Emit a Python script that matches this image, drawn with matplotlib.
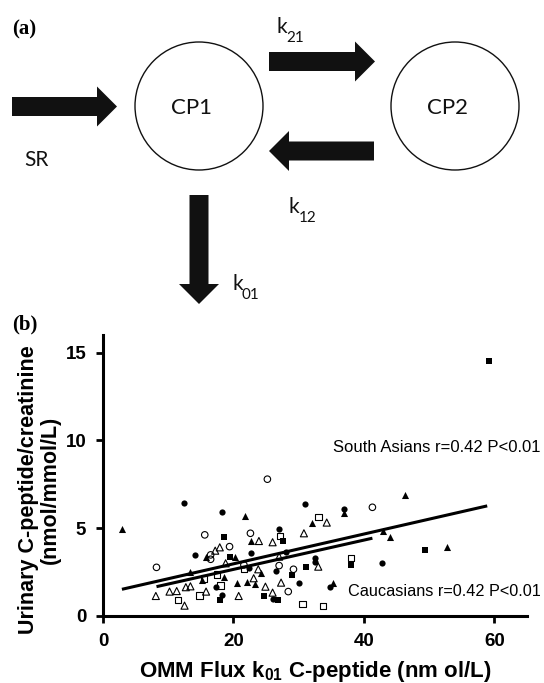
import matplotlib
matplotlib.use('Agg')
import matplotlib.pyplot as plt
from matplotlib.patches import Circle, FancyArrow

# ---- data ----
# South Asians (filled markers)
sa_circle_x = [12.4, 14.1, 18.2, 17.3, 18.3, 22.7, 22.4, 26.1, 27.0, 26.5, 28.1, 30.0, 31.0, 32.5, 32.5, 34.8, 37.0, 42.8]
sa_circle_y = [6.46, 3.48, 5.90, 1.64, 1.20, 3.57, 2.72, 0.97, 4.96, 2.58, 3.66, 1.86, 6.38, 3.30, 3.10, 1.67, 6.08, 3.00]
sa_tri_x = [2.9, 13.3, 15.2, 15.8, 18.6, 20.2, 20.5, 21.7, 22.1, 22.7, 23.3, 24.2, 32.1, 35.3, 37.0, 43.0, 44.0, 46.3, 52.7]
sa_tri_y = [4.94, 2.50, 2.05, 3.38, 2.24, 3.38, 1.86, 5.72, 1.95, 4.27, 1.82, 2.43, 5.28, 1.86, 5.85, 4.85, 4.48, 6.89, 3.91]
sa_sq_x = [17.9, 18.6, 19.5, 24.7, 26.9, 27.6, 29.0, 31.1, 38.0, 49.3, 59.2]
sa_sq_y = [0.91, 4.52, 3.38, 1.14, 0.91, 4.27, 2.34, 2.81, 2.91, 3.76, 14.53]

# Caucasians (open markers)
ca_circle_x = [8.2, 15.6, 16.5, 16.5, 19.4, 21.6, 22.6, 25.2, 27.0, 28.4, 29.2, 41.3]
ca_circle_y = [2.77, 4.62, 3.48, 3.23, 3.95, 2.91, 4.71, 7.79, 2.87, 1.39, 2.66, 6.19]
ca_tri_x = [8.1, 10.2, 11.3, 12.5, 12.7, 13.4, 15.8, 17.2, 17.9, 18.8, 20.8, 23.1, 23.8, 23.9, 24.9, 26.0, 26.0, 27.0, 27.3, 30.8, 33.0, 34.3]
ca_tri_y = [1.14, 1.39, 1.42, 0.59, 1.64, 1.69, 1.39, 3.72, 3.91, 3.00, 1.14, 2.15, 2.66, 4.27, 1.67, 1.33, 4.20, 3.38, 1.90, 4.71, 2.81, 5.32]
ca_sq_x = [11.5, 14.8, 15.5, 17.5, 18.0, 21.6, 27.1, 30.6, 33.0, 33.7, 38.0]
ca_sq_y = [0.91, 1.16, 2.13, 2.37, 1.73, 2.68, 4.56, 0.68, 5.64, 0.57, 3.29]

# regression lines (end points)
sa_fit_x = [2.9, 58.9]
sa_fit_y = [1.52, 6.27]
ca_fit_x = [8.2, 41.3]
ca_fit_y = [1.67, 4.43]

x_ticks = [0, 20, 40, 60]
y_ticks = [0, 5, 10, 15]

sa_label = 'South Asians r=0.42 P<0.01'
ca_label = 'Caucasians r=0.42 P<0.01'

plt.rcParams['mathtext.fontset'] = 'custom'
plt.rcParams['mathtext.rm'] = 'Liberation Sans:bold'
plt.rcParams['mathtext.it'] = 'Liberation Sans:bold'
plt.rcParams['mathtext.bf'] = 'Liberation Sans:bold'

W, H = 544, 683
fig = plt.figure(figsize=(W / 100, H / 100), dpi=100)

# ---- panel (a): compartment diagram, drawn in pixel units ----
diag = fig.add_axes([0, 0, 1, 1])
diag.set_xlim(0, W)
diag.set_ylim(H, 0)
diag.axis('off')

ink = '#111111'
diagFont = 'Lato'


def DrawArrow(axes, x0, y0, x1, y1):
    arrow = FancyArrow(x0, y0, x1 - x0, y1 - y0, width=19, head_width=40,
                       head_length=20, length_includes_head=True,
                       color=ink, lw=0)
    axes.add_patch(arrow)


def DrawK(axes, x, y, sub):
    axes.text(x, y, 'k', fontsize=15, family=diagFont, color=ink,
              ha='left', va='baseline')
    axes.text(x + 10, y + 9, sub, fontsize=11, family=diagFont, color=ink,
              ha='left', va='baseline')


for cx, name in [(199, 'CP1'), (455, 'CP2')]:
    diag.add_patch(Circle((cx, 106), 64, fill=False, ec=ink, lw=1.0))
    diag.text(cx - 7, 108, name, fontsize=16, family=diagFont, color=ink,
              ha='center', va='center')

DrawArrow(diag, 12, 106.5, 117, 106.5)
DrawArrow(diag, 269, 61.5, 375, 61.5)
DrawArrow(diag, 374, 151, 269, 151)
DrawArrow(diag, 199, 195, 199, 304)

diag.text(36, 160, 'SR', fontsize=15, family=diagFont, color=ink,
          ha='center', va='center')
DrawK(diag, 276, 33, '21')
DrawK(diag, 289, 213, '12')
DrawK(diag, 232, 290, '01')

diag.text(12, 29, '(a)', fontsize=15, family='Liberation Serif',
          weight='bold', ha='left', va='center')
diag.text(12, 324, '(b)', fontsize=15, family='Liberation Serif',
          weight='bold', ha='left', va='center')

# ---- panel (b): scatter ----
ax = fig.add_axes([103 / W, (H - 616) / H, 424 / W, 281 / H])
ax.patch.set_visible(False)
ax.set_xlim(0, 65)
ax.set_ylim(0, 16)

ax.plot(sa_fit_x, sa_fit_y, color='black', lw=2.2, solid_capstyle='butt')
ax.plot(ca_fit_x, ca_fit_y, color='black', lw=2.2, solid_capstyle='butt')

ax.scatter(sa_circle_x, sa_circle_y, marker='o', s=20, c='black', lw=0, zorder=3)
ax.scatter(sa_tri_x, sa_tri_y, marker='^', s=26, c='black', lw=0, zorder=3)
ax.scatter(sa_sq_x, sa_sq_y, marker='s', s=20, c='black', lw=0, zorder=3)
ax.scatter(ca_circle_x, ca_circle_y, marker='o', s=22, facecolors='none',
           edgecolors='black', lw=0.8, zorder=3)
ax.scatter(ca_tri_x, ca_tri_y, marker='^', s=26, facecolors='none',
           edgecolors='black', lw=0.8, zorder=3)
ax.scatter(ca_sq_x, ca_sq_y, marker='s', s=22, facecolors='none',
           edgecolors='black', lw=0.8, zorder=3)

for side in ['top', 'right']:
    ax.spines[side].set_visible(False)
for side in ['left', 'bottom']:
    ax.spines[side].set_linewidth(2.2)

ax.set_xticks(x_ticks)
ax.set_yticks(y_ticks)
ax.tick_params(width=2, length=5, labelsize=13.5, pad=7)
for label in ax.get_xticklabels() + ax.get_yticklabels():
    label.set_fontweight('bold')
    label.set_family('Liberation Sans')

ax.set_xlabel(r'OMM Flux k$_{01}$ C-peptide (nm ol/L)', fontsize=16,
              fontweight='bold', family='Liberation Sans', labelpad=7)
ax.set_ylabel('Urinary C-peptide/creatinine\n(nmol/mmol/L)', fontsize=15.5,
              fontweight='bold', family='Liberation Sans',
              linespacing=1.05)
ax.yaxis.set_label_coords(-0.10, 0.45)

ax.text(35.2, 9.57, sa_label, fontsize=12, family='Liberation Sans',
        ha='left', va='center', clip_on=False)
ax.text(37.5, 1.39, ca_label, fontsize=11.7, family='Liberation Sans',
        ha='left', va='center', clip_on=False)

fig.savefig('out.png', dpi=100)
